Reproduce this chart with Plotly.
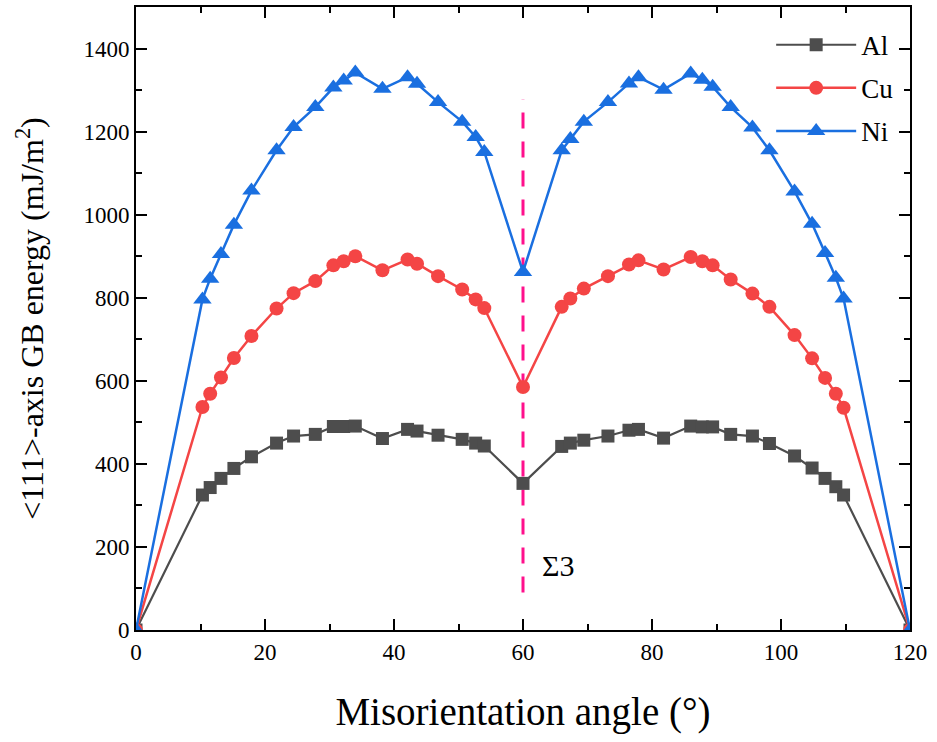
import plotly.graph_objects as go

# ---- data ----
angle = [0, 10.3, 11.5, 13.17, 15.18, 17.9, 21.79, 24.43, 27.8, 30.6, 32.2, 34.0,
         38.21, 42.1, 43.57, 46.83, 50.57, 52.66, 54.0, 60,
         66.0, 67.34, 69.43, 73.17, 76.43, 77.9, 81.79, 86.0, 87.8, 89.4, 92.2,
         95.57, 98.21, 102.1, 104.82, 106.83, 108.5, 109.7, 120]

al = [0, 325, 343, 365, 389, 417, 450, 467, 471, 490, 490, 491, 461, 483, 479,
      469, 459, 450, 443, 353,
      442, 450, 457, 467, 481, 483, 462, 491, 489, 489, 471, 467, 449, 419, 390,
      365, 345, 325, 0]

cu = [0, 537, 569, 608, 655, 708, 774, 811, 840, 878, 888, 900, 866, 892, 882,
      852, 820, 796, 775, 585,
      778, 798, 822, 852, 880, 890, 868, 898, 888, 878, 844, 810, 778, 710, 654,
      607, 569, 535, 0]

ni = [0, 796, 846, 905, 976, 1058, 1155, 1211, 1259, 1306, 1323, 1342, 1303,
      1331, 1315, 1271, 1224, 1187, 1151, 862,
      1155, 1182, 1224, 1271, 1316, 1331, 1301, 1340, 1325, 1308, 1259, 1210,
      1155, 1056, 978, 908, 848, 798, 0]

series_names = ["Al", "Cu", "Ni"]
sigma3_angle = 60
sigma3_range = [90, 1278]
sigma3_label = "Σ3"
sigma3_label_pos = [65.5, 156]

x_tickvals = [0, 20, 40, 60, 80, 100, 120]
y_tickvals = [0, 200, 400, 600, 800, 1000, 1200, 1400]

# ---- styling ----
FONT = "Liberation Serif"
AL_C = "#4d4d4d"
CU_C = "#f44545"
NI_C = "#1a6fe0"
SIG_C = "#ff108c"

fig = go.Figure()
fig.add_trace(go.Scatter(x=angle, y=al, name=series_names[0], mode="lines+markers",
                         legendgroup="a",
                         line=dict(color=AL_C, width=2.2),
                         marker=dict(symbol="square", size=13, color=AL_C)))
fig.add_trace(go.Scatter(x=angle, y=cu, name=series_names[1], mode="lines+markers",
                         legendgroup="b",
                         line=dict(color=CU_C, width=2.5),
                         marker=dict(symbol="circle", size=14, color=CU_C)))
fig.add_trace(go.Scatter(x=angle, y=ni, name=series_names[2], mode="lines+markers",
                         legendgroup="c",
                         line=dict(color=NI_C, width=2.5),
                         marker=dict(symbol="triangle-up", size=16, color=NI_C)))

fig.add_shape(type="line", xref="x", yref="y",
              x0=sigma3_angle, x1=sigma3_angle, y0=sigma3_range[0], y1=sigma3_range[1],
              line=dict(color=SIG_C, width=3, dash="16px,13px"), layer="below")

fig.add_annotation(x=sigma3_label_pos[0], y=sigma3_label_pos[1], xref="x", yref="y",
                   text=sigma3_label, showarrow=False,
                   font=dict(family=FONT, size=30, color="black"))

axis_common = dict(showline=True, linecolor="black", linewidth=2, mirror="ticks",
                   ticks="inside", tickcolor="black", tickwidth=2, ticklen=11,
                   showgrid=False, zeroline=False,
                   tickfont=dict(family=FONT, size=23, color="black"))

fig.update_xaxes(range=[0, 120], tickvals=x_tickvals,
                 minor=dict(dtick=10, ticks="inside", ticklen=6, tickwidth=2, tickcolor="black"),
                 title=dict(text="Misorientation angle (°)",
                            font=dict(family=FONT, size=39, color="black"), standoff=34),
                 **axis_common)
fig.update_yaxes(range=[0, 1500], tickvals=y_tickvals,
                 minor=dict(dtick=100, ticks="inside", ticklen=6, tickwidth=2, tickcolor="black"),
                 title=dict(text="&lt;111&gt;-axis GB energy (mJ/m<sup>2</sup>)",
                            font=dict(family=FONT, size=32, color="black"), standoff=30),
                 **axis_common)

fig.update_layout(
    width=937, height=742,
    margin=dict(l=136, r=27, t=7, b=112, autoexpand=False),
    paper_bgcolor="white", plot_bgcolor="white",
    font=dict(family=FONT, color="black"),
    legend=dict(x=0.986, xanchor="right", y=0.978, yanchor="top",
                bgcolor="rgba(0,0,0,0)", borderwidth=0,
                font=dict(family=FONT, size=27, color="black"),
                itemwidth=80, tracegroupgap=5),
)

fig.write_html("out.html")
